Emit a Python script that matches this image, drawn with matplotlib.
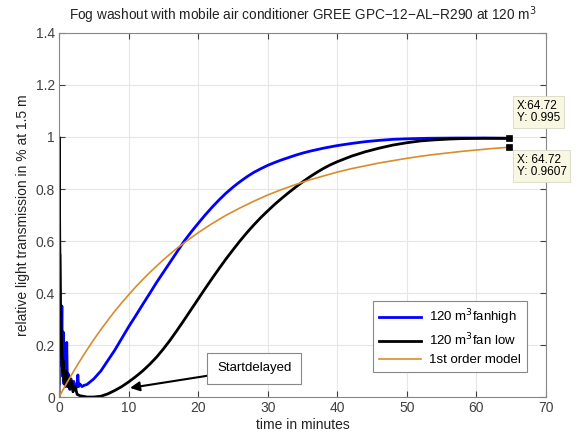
import numpy as np
import matplotlib
matplotlib.use("Agg")
import matplotlib.pyplot as plt

plt.rcParams["font.family"] = ["Liberation Sans", "DejaVu Sans"]

# fan high (blue)
t_high = [0.0, 0.1, 0.2, 0.3, 0.4, 0.5, 0.6, 0.7, 0.8, 0.9, 1.0, 1.1, 1.2, 1.3, 1.5,
          1.7, 1.9, 2.1, 2.4, 2.6, 2.7, 2.8, 3.0, 3.3, 3.6, 4.0, 5.0, 6.0, 7.0, 8.0,
          9.0, 10.0, 11.0, 12.0, 13.0, 14.0, 15.0, 16.0, 17.0, 18.0, 19.0, 20.0,
          21.0, 22.0, 23.0, 24.0, 25.0, 26.0, 27.0, 28.0, 29.0, 30.0, 31.0, 32.0,
          33.0, 34.0, 35.0, 36.0, 37.0, 38.0, 39.0, 40.0, 42.0, 44.0, 46.0, 48.0,
          50.0, 53.0, 57.0, 61.0, 64.72]
y_high = [0.05, 0.55, 0.30, 0.12, 0.35, 0.08, 0.25, 0.05, 0.15, 0.04, 0.10, 0.21, 0.05,
          0.09, 0.03, 0.07, 0.04, 0.06, 0.03, 0.05, 0.085, 0.04, 0.05, 0.04, 0.045, 0.048,
          0.07, 0.10, 0.14, 0.18, 0.225, 0.27, 0.312, 0.355, 0.397, 0.44, 0.48, 0.52,
          0.56, 0.60, 0.635, 0.668, 0.70, 0.73, 0.758, 0.784, 0.807, 0.828, 0.847,
          0.864, 0.878, 0.891, 0.902, 0.912, 0.921, 0.93, 0.938, 0.945, 0.951, 0.957,
          0.962, 0.967, 0.975, 0.982, 0.987, 0.991, 0.993, 0.995, 0.996, 0.996, 0.995]

# fan low (black)
t_low = [0.0, 0.0, 0.1, 0.2, 0.3, 0.4, 0.5, 0.6, 0.7, 0.8, 0.9, 1.0, 1.2, 1.4, 1.6,
         1.8, 2.0, 2.3, 2.6, 3.0, 4.0, 5.0, 6.0, 7.0, 8.0, 9.0, 10.0, 11.0, 12.0, 13.0,
         14.0, 15.0, 16.0, 17.0, 18.0, 19.0, 20.0, 21.0, 22.0, 23.0, 24.0, 25.0, 26.0,
         27.0, 28.0, 29.0, 30.0, 31.0, 32.0, 33.0, 34.0, 35.0, 36.0, 37.0, 38.0, 39.0,
         40.0, 42.0, 44.0, 46.0, 48.0, 50.0, 52.0, 54.0, 56.0, 58.0, 61.0, 64.72]
y_low = [0.0, 1.0, 0.60, 0.35, 0.25, 0.18, 0.10, 0.14, 0.06, 0.09, 0.05, 0.10, 0.04,
         0.08, 0.03, 0.06, 0.02, 0.04, 0.01, 0.005, 0.0, 0.0, 0.003, 0.012, 0.025, 0.04,
         0.058, 0.078, 0.10, 0.125, 0.153, 0.185, 0.22, 0.258, 0.297, 0.337, 0.377,
         0.417, 0.456, 0.494, 0.531, 0.566, 0.60, 0.632, 0.662, 0.69, 0.716, 0.741,
         0.764, 0.786, 0.807, 0.827, 0.846, 0.863, 0.879, 0.893, 0.905, 0.926, 0.943,
         0.957, 0.969, 0.978, 0.985, 0.989, 0.992, 0.994, 0.995, 0.995]

# 1st order model (orange)
t_model = [0, 1, 2, 3, 4, 5, 6, 7, 8, 9, 10, 11, 12, 13, 14, 15, 16, 17, 18, 19, 20,
           22, 24, 26, 28, 30, 32, 34, 36, 38, 40, 42, 44, 46, 48, 50, 52, 54, 56, 58,
           60, 62, 64.72]
y_model = [0.0, 0.049, 0.095, 0.139, 0.181, 0.221, 0.259, 0.295, 0.33, 0.362, 0.393,
           0.423, 0.451, 0.478, 0.503, 0.528, 0.551, 0.573, 0.593, 0.613, 0.632, 0.667,
           0.699, 0.727, 0.753, 0.777, 0.798, 0.817, 0.835, 0.85, 0.865, 0.878, 0.889,
           0.90, 0.909, 0.918, 0.926, 0.933, 0.939, 0.945, 0.95, 0.955, 0.9607]

tip_x = 64.72
tip_y = [0.995, 0.9607]

fig = plt.figure(figsize=(5.85, 4.37), dpi=100)
ax = fig.add_axes([0.101, 0.0915, 0.8323, 0.833])

ax.plot(t_high, y_high, color="#0000ff", lw=2.0, label="120 m$^3$fanhigh")
ax.plot(t_low, y_low, color="black", lw=2.0, label="120 m$^3$fan low")
ax.plot(t_model, y_model, color="#d98c2b", lw=1.2, label="1st order model")

# data tip markers
ax.plot([tip_x, tip_x], tip_y, ls="none", marker="s", ms=5, mew=0.5,
        color="black", clip_on=False, zorder=5)

ax.set_xlim(0, 70)
ax.set_ylim(0, 1.4)
ax.set_xticks(np.arange(0, 71, 10))
ax.set_yticks(np.arange(0, 1.41, 0.2))
ax.set_yticklabels(["0", "0.2", "0.4", "0.6", "0.8", "1", "1.2", "1.4"])
ax.grid(True, color="#e6e6e6", lw=0.8)
ax.set_axisbelow(True)
ax.tick_params(direction="in", top=True, right=True, labelsize=10, colors="#404040",
               length=4, pad=3)
for s in ax.spines.values():
    s.set_color("#888888")

ax.set_xlabel("time in minutes", fontsize=10, color="#222222", labelpad=2)
ax.set_ylabel("relative light transmission in % at 1.5 m", fontsize=10,
              color="#222222", labelpad=4)
ax.set_title("Fog washout with mobile air conditioner GREE GPC\u221212\u2212AL\u2212R290 at 120 m$^3$",
             fontsize=9.8, color="#222222", pad=9)

leg = ax.legend(loc="lower right", bbox_to_anchor=(0.975, 0.05), fontsize=9.5,
                fancybox=False, framealpha=1, edgecolor="#888888",
                handlelength=3.2, borderpad=0.45, labelspacing=0.4, handletextpad=0.6)
leg.get_frame().set_linewidth(0.8)

ax.annotate("Startdelayed", xy=(10.2, 0.035), xytext=(22.7, 0.11),
            fontsize=9.5, va="center", ha="left",
            bbox=dict(boxstyle="square,pad=0.75", fc="white", ec="#888888", lw=0.8),
            arrowprops=dict(arrowstyle="-|>", color="black", lw=1.5,
                            mutation_scale=14, shrinkA=0, shrinkB=0))

tip_box = dict(boxstyle="square,pad=0.3", fc="#f7f7e2", ec="#d8d8c8", lw=0.6)
ax.text(65.8, 1.096, "X:64.72\nY: 0.995", fontsize=8.5, ha="left", va="center",
        bbox=tip_box, clip_on=False, linespacing=1.05)
ax.text(65.8, 0.888, "X: 64.72\nY: 0.9607", fontsize=8.5, ha="left", va="center",
        bbox=tip_box, clip_on=False, linespacing=1.05)

fig.savefig("out.png", dpi=100)
